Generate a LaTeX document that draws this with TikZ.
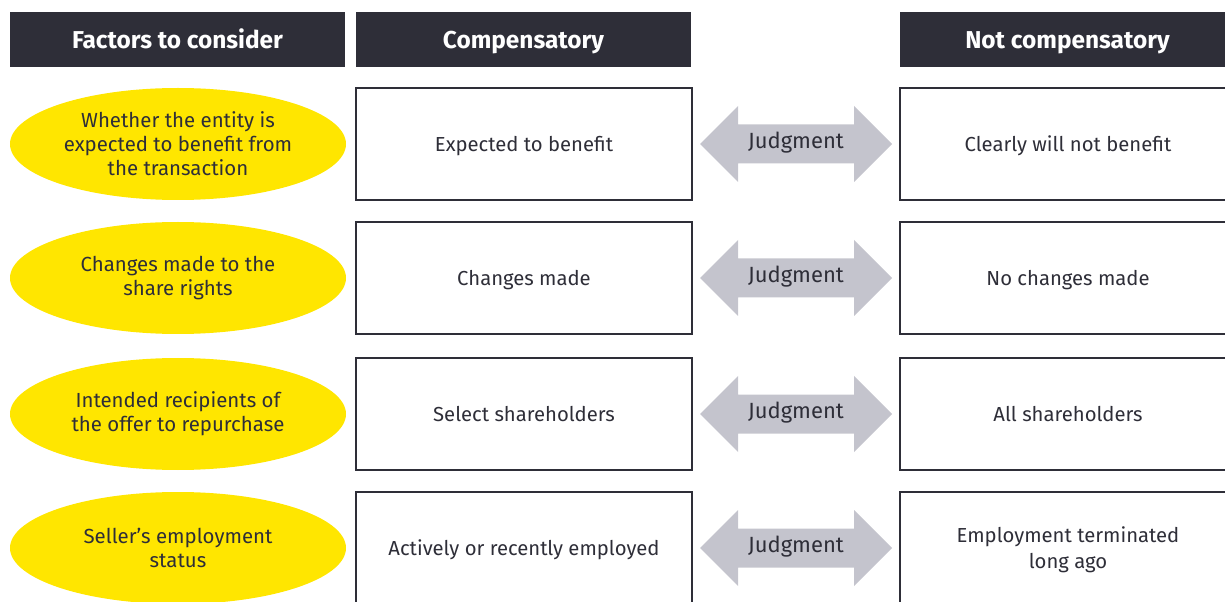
\documentclass[tikz,border=0pt]{standalone}
\usepackage{fontspec}
\setmainfont{Fira Sans}
\usepackage{xcolor}
\usepackage{tikz}
\usetikzlibrary{calc, shapes}
\definecolor{eydark}{HTML}{2E2E38}
\definecolor{eyyellow}{HTML}{FFE600}
\definecolor{eygrey}{HTML}{C4C4CD}

\begin{document}
\begin{tikzpicture}%
	[x=0.75pt, y=-0.75pt,
	header/.style={fill=eydark, text=white, font=\bfseries\fontsize{18.3}{20}\selectfont,
		minimum width=251.25pt, minimum height=41.25pt, inner sep=0pt, text height=14.5pt, text depth=0.3pt},
	factor/.style={ellipse, fill=eyyellow, text=eydark, minimum width=252pt, minimum height=84pt,
		inner sep=0pt, align=center, font=\fontsize{15.3}{18}\selectfont},
	answer/.style={draw=eydark, line width=1.4pt, fill=white, text=eydark, minimum width=252pt,
		minimum height=84pt, inner sep=0pt, align=center, text depth=-1.2pt, font=\fontsize{15.2}{19.5}\selectfont},
	judgearrow/.style={fill=eygrey},
	judge/.style={text=eydark, inner sep=0pt, font=\fontsize{16.5}{18}\selectfont}]
%
\useasboundingbox (0,0) rectangle (1225,602);
\clip (0,0) rectangle (1225,602);
%
%% Headers
%%
\node[header] (hfactor) at (177.5,39.5) {Factors to consider};
\node[header] (hcomp) at (523.5,39.5) {Compensatory};
\node[header] (hnot) at (1067.5,39.5) {Not compensatory};
%%
%%
%% Factors to consider
%%
\node[factor] (f1) at (178,144) {Whether the entity is\\expected to benefit from\\the transaction};
\node[factor] (f2) at (178,278) {Changes made to the\\share rights};
\node[factor] (f3) at (178,414) {Intended recipients of\\the offer to repurchase};
\node[factor] (f4) at (178,548) {Seller's employment\\status};
%%
%%
%% Compensatory
%%
\node[answer] (c1) at (524,144) {Expected to benefit};
\node[answer] (c2) at (524,278) {Changes made};
\node[answer] (c3) at (524,414) {Select shareholders};
\node[answer] (c4) at (524,548) {Actively or recently employed};
%%
%%
%% Not compensatory
%%
\node[answer] (n1) at (1068,144) {Clearly will not benefit};
\node[answer] (n2) at (1068,278) {No changes made};
\node[answer] (n3) at (1068,414) {All shareholders};
\node[answer] (n4) at (1068,548) {Employment terminated\\long ago};
%%
%%
%% Judgment arrows
%%
\coordinate (a1) at ($(c1.east)!0.5!(n1.west)$);
\coordinate (a2) at ($(c2.east)!0.5!(n2.west)$);
\coordinate (a3) at ($(c3.east)!0.5!(n3.west)$);
\coordinate (a4) at ($(c4.east)!0.5!(n4.west)$);
\fill[judgearrow] (a1) ++(-96,0) -- ++(38,-38) -- ++(0,18.5) -- ++(116,0) -- ++(0,-18.5) -- ++(38,38) -- ++(-38,38) -- ++(0,-18.5) -- ++(-116,0) -- ++(0,18.5) -- cycle;
\fill[judgearrow] (a2) ++(-96,0) -- ++(38,-38) -- ++(0,18.5) -- ++(116,0) -- ++(0,-18.5) -- ++(38,38) -- ++(-38,38) -- ++(0,-18.5) -- ++(-116,0) -- ++(0,18.5) -- cycle;
\fill[judgearrow] (a3) ++(-96,0) -- ++(38,-38) -- ++(0,18.5) -- ++(116,0) -- ++(0,-18.5) -- ++(38,38) -- ++(-38,38) -- ++(0,-18.5) -- ++(-116,0) -- ++(0,18.5) -- cycle;
\fill[judgearrow] (a4) ++(-96,0) -- ++(38,-38) -- ++(0,18.5) -- ++(116,0) -- ++(0,-18.5) -- ++(38,38) -- ++(-38,38) -- ++(0,-18.5) -- ++(-116,0) -- ++(0,18.5) -- cycle;
\node[judge] (j1) at ($(a1)+(0,-1.5)$) {Judgment};
\node[judge] (j2) at ($(a2)+(0,-1.5)$) {Judgment};
\node[judge] (j3) at ($(a3)+(0,-1.5)$) {Judgment};
\node[judge] (j4) at ($(a4)+(0,-1.5)$) {Judgment};
%%
%%
\end{tikzpicture}
\end{document}
